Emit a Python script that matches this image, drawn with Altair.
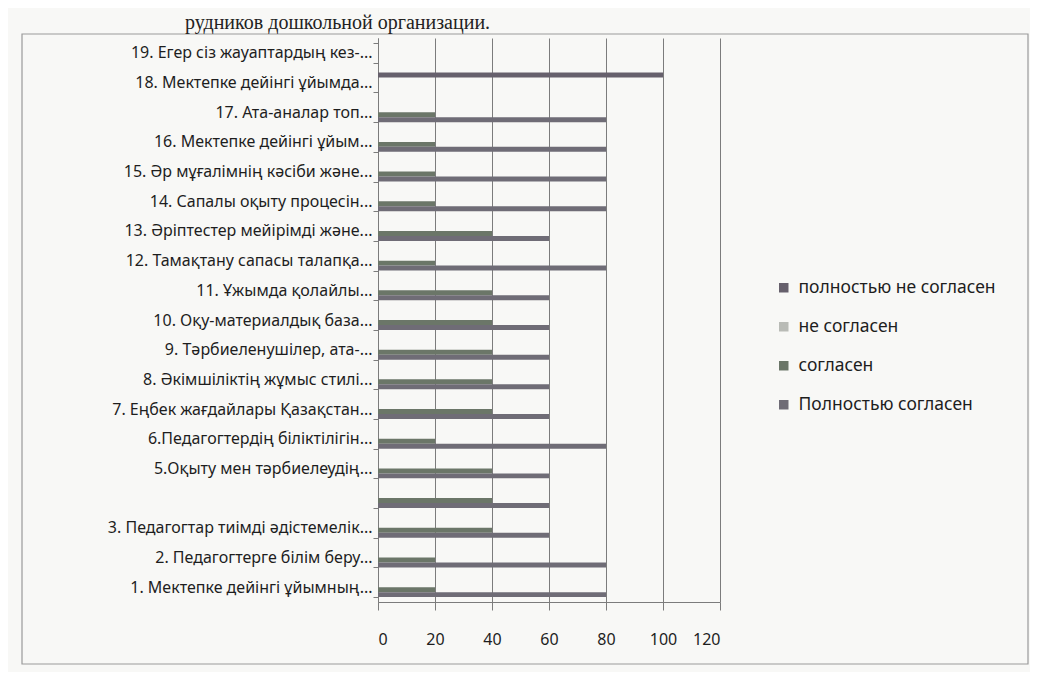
import altair as alt
import pandas as pd

questions = [
    "19. Егер сіз жауаптардың кез-...",
    "18. Мектепке дейінгі ұйымда...",
    "17. Ата-аналар топ...",
    "16. Мектепке дейінгі ұйым...",
    "15. Әр мұғалімнің кәсіби және...",
    "14. Сапалы оқыту процесін...",
    "13. Әріптестер мейірімді және...",
    "12. Тамақтану сапасы талапқа...",
    "11. Ұжымда қолайлы...",
    "10. Оқу-материалдық база...",
    "9. Тәрбиеленушілер, ата-...",
    "8. Әкімшіліктің жұмыс стилі...",
    "7. Еңбек жағдайлары Қазақстан...",
    "6.Педагогтердің біліктілігін...",
    "5.Оқыту мен тәрбиелеудің...",
    " ",
    "3. Педагогтар тиімді әдістемелік...",
    "2. Педагогтерге білім беру...",
    "1. Мектепке дейінгі ұйымның...",
]

series = ["полностью не согласен", "не согласен", "согласен", "Полностью согласен"]
colors = ["#66606c", "#b9bbb6", "#6b7668", "#6f6c76"]

# values per question, same order as `questions` (19 -> 1)
fully_agree    = [0, 0, 80, 80, 80, 80, 60, 80, 60, 60, 60, 60, 60, 80, 60, 60, 60, 80, 80]
agree          = [0, 0, 20, 20, 20, 20, 40, 20, 40, 40, 40, 40, 40, 20, 40, 40, 40, 20, 20]
disagree       = [0, 0, 0, 0, 0, 0, 0, 0, 0, 0, 0, 0, 0, 0, 0, 0, 0, 0, 0]
fully_disagree = [0, 100, 0, 0, 0, 0, 0, 0, 0, 0, 0, 0, 0, 0, 0, 0, 0, 0, 0]

x_ticks = [0, 20, 40, 60, 80, 100, 120]
heading = "рудников дошкольной организации."

rows = []
for i, q in enumerate(questions):
    for s, vals in zip(series, [fully_disagree, disagree, agree, fully_agree]):
        rows.append({"q": q, "s": s, "v": vals[i]})
df = pd.DataFrame(rows)

FONT = "Noto Sans"

bars = alt.Chart(df).mark_bar().encode(
    y=alt.Y("q:N", sort=questions,
            scale=alt.Scale(paddingInner=0.33, paddingOuter=0.165),
            axis=alt.Axis(title=None, tickBand="extent", tickSize=5,
                          labelPadding=1, labelLimit=500, labelFontSize=16,
                          labelFont=FONT, labelColor="#1e1e1e",
                          domainColor="#7c7c7c", tickColor="#7c7c7c", grid=False)),
    yOffset=alt.YOffset("s:N", sort=series),
    x=alt.X("v:Q", scale=alt.Scale(domain=[0, 120], nice=False),
            axis=alt.Axis(title=None, values=x_ticks, grid=True, gridColor="#7c7c7c",
                          domainColor="#7c7c7c", tickColor="#7c7c7c", tickSize=8,
                          labelPadding=21, labelFontSize=16, labelFont=FONT,
                          labelColor="#1e1e1e")),
    color=alt.Color("s:N", sort=series,
                    scale=alt.Scale(domain=series, range=colors),
                    legend=alt.Legend(title=None, orient="none", legendX=397, legendY=241,
                                      symbolType="square", symbolSize=90,
                                      symbolStrokeWidth=0, labelFontSize=17.5,
                                      labelFont=FONT, labelColor="#1e1e1e",
                                      labelLimit=0, rowPadding=20, labelOffset=6)),
)

frame = alt.Chart(pd.DataFrame({"a": [0]})).mark_rect(
    fill="transparent", stroke="#9a9a9a", strokeWidth=1.2
).encode(x=alt.value(-356), x2=alt.value(650), y=alt.value(-4), y2=alt.value(626))

title = alt.Chart(pd.DataFrame({"t": [heading]})).mark_text(
    align="left", baseline="alphabetic", font="Liberation Serif", fontSize=20,
    color="#222222"
).encode(text="t:N", x=alt.value(-193), y=alt.value(-9))

chart = alt.layer(frame, bars, title).properties(
    width=342, height=564,
    autosize=alt.AutoSizeParams(type="none"),
    padding={"left": 370, "top": 30, "right": 310, "bottom": 70},
    background="#f8f8f6",
).configure_view(strokeWidth=0)

chart.save("out.html", embed_options={"renderer": "svg", "actions": False})
